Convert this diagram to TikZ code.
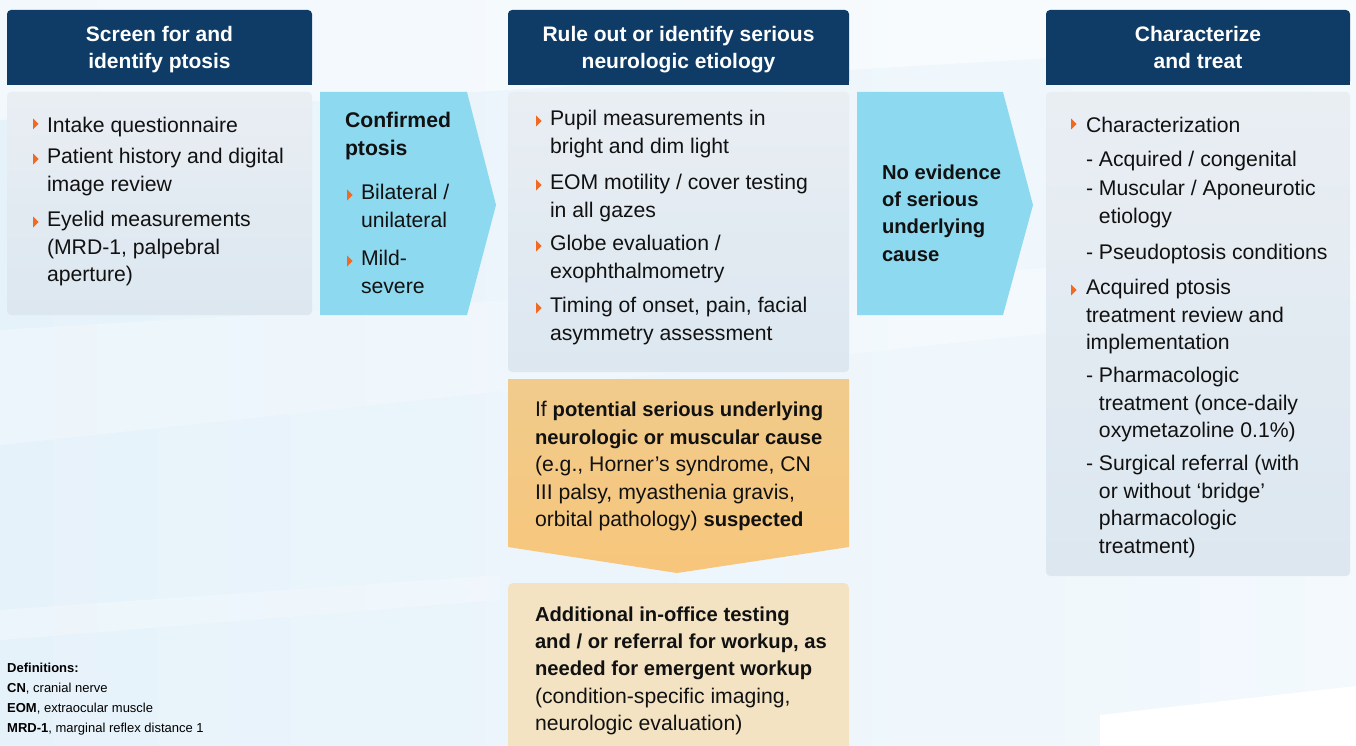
\documentclass[tikz,border=0pt]{standalone}
\usepackage{fontspec}
\setmainfont{Liberation Sans}
\definecolor{navy}{HTML}{0E3C66}
\definecolor{bodytop}{HTML}{E9EEF3}
\definecolor{bodybot}{HTML}{DCE7F0}
\definecolor{cyanbox}{HTML}{8DD9F0}
\definecolor{orangetop}{HTML}{F0CB8C}
\definecolor{orangebot}{HTML}{F7C67B}
\definecolor{creambox}{HTML}{F3E3C3}
\definecolor{bulletorange}{HTML}{F26A21}
\definecolor{bgleft}{HTML}{E6F2FA}
\definecolor{bgright}{HTML}{F3F9FD}
\definecolor{textdark}{HTML}{111111}
\newcommand\bodyfnt{\fontsize{21.2}{27.4}\selectfont}
\newcommand\bodyboldfnt{\fontsize{20.2}{27.4}\selectfont\bfseries}
\newcommand\bb[1]{{\bodyboldfnt #1}}
\newcommand\hdrfnt{\fontsize{21}{26.5}\selectfont\bfseries}
\newcommand\deffnt{\fontsize{13}{20}\selectfont}
\tikzset{
  hdrbox/.style={fill=navy, rounded corners=4pt},
  hdr/.style={text=white, font=\hdrfnt, align=center, inner sep=0pt},
  bodybox/.style={top color=bodytop, bottom color=bodybot, draw=none, rounded corners=4pt},
  arrowbox/.style={fill=cyanbox},
  txt/.style={anchor=north west, yshift=15.5pt, inner sep=0pt, outer sep=0pt, align=left,
    font=\bodyfnt, text=textdark, execute at begin node=\strut},
  deftxt/.style={anchor=north west, yshift=10.5pt, inner sep=0pt, align=left, font=\deffnt,
    text=black, execute at begin node=\strut},
  bullet/.pic={\fill[bulletorange] (0,-10.5) -- (5.5,-5) -- (0,0.5) -- cycle;}
}
\begin{document}
\begin{tikzpicture}[x=1pt,y=-1pt]
\useasboundingbox (0,0) rectangle (1356,746);
% background
\shade[left color=bgleft, right color=bgright] (0,0) rectangle (1356,746);
\fill[white, opacity=0.25] (0,330) -- (1356,250) -- (1356,300) -- (0,445) -- cycle;
\fill[white, opacity=0.5] (0,0) -- (1356,0) -- (1356,40) -- (0,120) -- cycle;
\fill[white] (1100,715) -- (1356,686) -- (1356,746) -- (1100,746) -- cycle;
\fill[white, opacity=0.25] (0,610) -- (500,575) -- (500,600) -- (0,640) -- cycle;

% headers
\path[hdrbox] (7,10) rectangle (312,85);
\path[hdrbox] (508,10) rectangle (849,85);
\path[hdrbox] (1046,10) rectangle (1350,85);
\fill[navy] (7,70) rectangle (312,85);
\fill[navy] (508,70) rectangle (849,85);
\fill[navy] (1046,70) rectangle (1350,85);
\node[hdr] (h1) at (159.5,49.5) {Screen for and\\identify ptosis};
\node[hdr] (h2) at (678.5,49.5) {Rule out or identify serious\\neurologic etiology};
\node[hdr] (h3) at (1198,47.5) {Characterize\\and treat};

% body boxes
\path[bodybox] (7,92) rectangle (312,315);
\path[bodybox] (508,92) rectangle (849,372);
\path[bodybox] (1046,92) rectangle (1350,576);

% arrows
\fill[arrowbox] (320,92) -- (467,92) -- (496,205) -- (467,315) -- (320,315) -- cycle;
\fill[arrowbox] (857,92) -- (1003,92) -- (1033,205) -- (1003,315) -- (857,315) -- cycle;

% orange chevron and cream box
\shade[top color=orangetop, bottom color=orangebot] (508,379) -- (849,379) -- (849,547) -- (677,573) -- (508,547) -- cycle;
\fill[creambox, rounded corners=5pt] (508,583) rectangle (849,770);

% left column
\pic at (33,129) {bullet};
\node[txt] (l1) at (47,129) {Intake questionnaire};
\pic at (33,164) {bullet};
\node[txt] (l2) at (47,164) {Patient history and digital\\image review};
\pic at (33,227) {bullet};
\node[txt] (l3) at (47,227) {Eyelid measurements\\(MRD-1, palpebral\\aperture)};

% confirmed ptosis
\node[txt, font=\bodyfnt\bfseries] (c0) at (345,128) {Confirmed\\ptosis};
\pic at (347,200) {bullet};
\node[txt] (c1) at (361,200) {Bilateral /\\unilateral};
\pic at (347,266) {bullet};
\node[txt] (c2) at (361,266) {Mild-\\severe};

% middle column
\pic at (536,126) {bullet};
\node[txt] (m1) at (550,126) {Pupil measurements in\\bright and dim light};
\pic at (536,190) {bullet};
\node[txt] (m2) at (550,190) {EOM motility / cover testing\\in all gazes};
\pic at (536,251) {bullet};
\node[txt] (m3) at (550,251) {Globe evaluation /\\exophthalmometry};
\pic at (536,313) {bullet};
\node[txt] (m4) at (550,313) {Timing of onset, pain, facial\\asymmetry assessment};

% no evidence
\node[txt, font=\bodyboldfnt] (n1) at (882,180) {No evidence\\of serious\\underlying\\cause};

% orange text
\node[txt] (o1) at (535,417) {If \bb{potential serious underlying}\\\bb{neurologic or muscular cause}\\(e.g., Horner’s syndrome, CN\\III palsy, myasthenia gravis,\\orbital pathology) \bb{suspected}};

% cream text
\node[txt] (b1) at (535,622) {\bb{Additional in-office testing}\\\bb{and / or referral for workup, as}\\\bb{needed for emergent workup}\\(condition-specific imaging,\\neurologic evaluation)};

% right column
\pic at (1071,129) {bullet};
\node[txt] (r1) at (1086,129) {Characterization};
\node[txt] (r1a) at (1086,163) {- Acquired / congenital};
\node[txt] (r1b) at (1086,196) {- Muscular / Aponeurotic\\\hphantom{- }etiology};
\node[txt] (r1c) at (1086,256) {- Pseudoptosis conditions};
\pic at (1071,295) {bullet};
\node[txt] (r2) at (1086,295) {Acquired ptosis\\treatment review and\\implementation};
\node[txt] (r2a) at (1086,383) {- Pharmacologic\\\hphantom{- }treatment (once-daily\\\hphantom{- }oxymetazoline 0.1\%)};
\node[txt] (r2b) at (1086,471) {- Surgical referral (with\\\hphantom{- }or without ‘bridge’\\\hphantom{- }pharmacologic\\\hphantom{- }treatment)};

% definitions
\node[deftxt] (d1) at (7,673) {\textbf{Definitions:}\\\textbf{CN}, cranial nerve\\\textbf{EOM}, extraocular muscle\\\textbf{MRD-1}, marginal reflex distance 1};
\end{tikzpicture}
\end{document}
